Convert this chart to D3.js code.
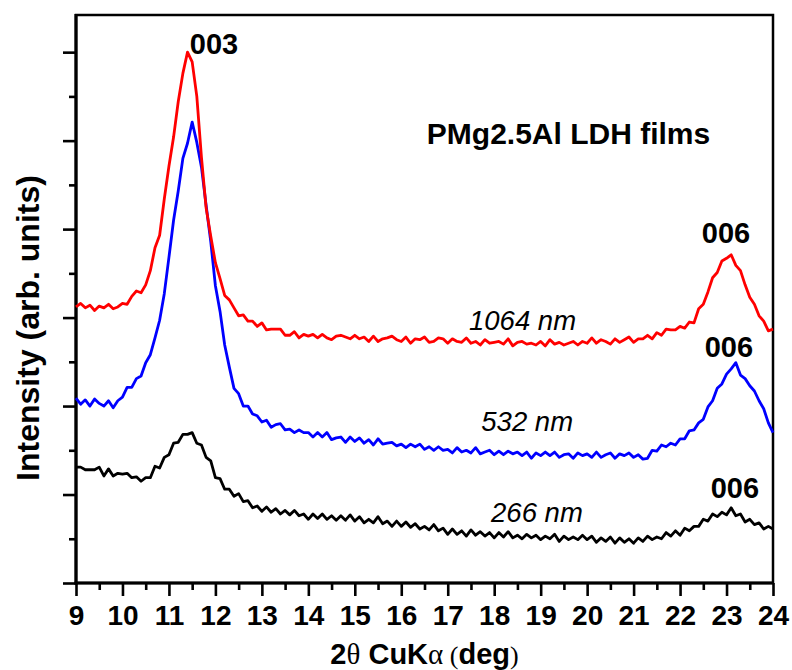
<!DOCTYPE html>
<html><head><meta charset="utf-8">
<script src="https://cdnjs.cloudflare.com/ajax/libs/d3/7.8.5/d3.min.js"></script>
<style>body{margin:0;background:#fff}svg{display:block}</style>
</head><body><svg id="c" width="792" height="670"></svg>
<script>
// ---- data (2theta from 9.0 to 24.0 deg, step 0.1; intensity in arb. units) ----
const thetaStart = 9.0, thetaStep = 0.1;
const red1064 = [
312,316,311,314,308,313,311,315,310,312,
316,315,324,330,328,337,353,379,393,434,
471,504,544,576,600,589,550,481,424,392,
362,344,325,320,311,302,303,296,296,290,
294,286,287,287,287,280,280,284,277,281,
279,281,277,281,277,275,279,280,278,276,
280,276,278,273,279,273,276,277,279,275,
273,278,271,276,275,278,272,273,277,276,
271,276,273,272,277,271,273,269,275,271,
272,273,270,276,268,272,273,270,271,269,
273,268,275,270,272,269,271,273,269,273,
271,277,271,275,273,270,276,272,275,278,
272,276,276,280,276,283,280,287,286,286,
290,288,295,294,310,315,329,345,351,364,
367,371,359,353,337,323,315,302,296,285,287];
const blue532 = [
209,202,207,200,208,203,200,206,198,206,
210,221,221,231,234,249,258,277,297,327,
368,410,443,480,497,521,498,470,427,386,
336,307,269,244,220,214,200,200,191,189,
182,184,176,179,180,173,174,170,173,170,
170,165,170,165,170,162,164,165,159,165,
160,164,158,162,156,163,157,158,159,155,
157,153,157,154,157,151,154,150,154,150,
151,147,153,148,150,147,153,146,148,150,
145,149,145,149,146,148,144,148,141,147,
144,148,144,148,142,145,146,141,147,144,
146,142,148,142,145,147,141,146,144,147,
142,145,140,141,150,149,156,154,158,156,
163,163,172,173,181,185,199,206,220,225,
236,242,249,235,231,223,217,206,197,181,170];
const black266 = [
131,131,128,128,128,131,121,129,121,124,
123,124,119,120,115,119,119,132,130,142,
145,158,159,168,168,170,158,156,142,138,
119,118,106,106,98,101,92,93,85,87,
81,86,80,84,78,82,77,82,76,78,
72,78,73,78,72,76,71,76,71,77,
70,75,68,72,68,75,67,70,64,70,
64,69,63,67,61,64,60,66,59,62,
55,61,55,59,53,60,54,58,53,57,
51,57,52,58,51,54,50,55,51,54,
49,53,50,55,47,53,49,52,49,54,
49,53,46,51,47,52,45,51,46,50,
45,51,47,53,49,52,50,57,53,59,
54,62,59,64,64,72,70,78,75,80,
77,85,76,78,69,72,66,68,61,64,61];

const xTickLabels = [9,10,11,12,13,14,15,16,17,18,19,20,21,22,23,24];
const yMajorTicks = [0,100,200,300,400,500,600];
const seriesNames = ["266 nm","532 nm","1064 nm"];
const seriesColors = ["#000000","#0000ff","#ff0000"];
// annotation positions in data units (deg, intensity)
const peakLabels = [
  {text:"003", x:11.97, y:598},
  {text:"006", x:22.99, y:384},
  {text:"006", x:23.05, y:255},
  {text:"006", x:23.18, y:96}
];
const seriesLabelPos = [
  {x:18.92, y:69}, {x:18.71, y:172}, {x:18.61, y:286}
];
const titleText = "PMg2.5Al LDH films";
const titlePos = {x:19.6, y:496};

// ---- layout ----
const m = {left:76, right:773, top:15, bottom:583};
const FONT = "'Liberation Sans', Arial, Helvetica, sans-serif";
const SERIF = "'Liberation Serif', 'Times New Roman', serif";
const svg = d3.select("#c");

const x = d3.scaleLinear().domain([9,24]).range([m.left, m.right]);
const y = d3.scaleLinear().domain([0,642]).range([m.bottom, m.top]);

const xMinor = xTickLabels.slice(0,-1).map(v => v + 0.5);
const yMinor = yMajorTicks.slice(0,-1).map(v => v + 50);

function styleAxis(g){
  g.select(".domain").remove();
  g.selectAll(".tick line").attr("stroke","#000").attr("stroke-width",2.6);
}
// x axis ticks
svg.append("g").attr("transform",`translate(0,${m.bottom})`)
  .call(d3.axisBottom(x).tickValues(xMinor).tickSize(7).tickFormat(""))
  .call(styleAxis);
const gx = svg.append("g").attr("transform",`translate(0,${m.bottom})`)
  .call(d3.axisBottom(x).tickValues(xTickLabels).tickSize(13).tickFormat(d3.format("d")))
  .call(styleAxis);
gx.selectAll(".tick text").attr("y",42).attr("dy",0)
  .style("font",`bold 28px ${FONT}`).attr("fill","#000");

// y axis ticks (no labels)
svg.append("g").attr("transform",`translate(${m.left},0)`)
  .call(d3.axisLeft(y).tickValues(yMinor).tickSize(7).tickFormat(""))
  .call(styleAxis);
svg.append("g").attr("transform",`translate(${m.left},0)`)
  .call(d3.axisLeft(y).tickValues(yMajorTicks).tickSize(13).tickFormat(""))
  .call(styleAxis);

// frame
svg.append("rect").attr("x",m.left).attr("y",m.top)
  .attr("width",m.right-m.left).attr("height",m.bottom-m.top)
  .attr("fill","none").attr("stroke","#000").attr("stroke-width",2.5);
svg.append("line").attr("x1",m.left).attr("x2",m.left).attr("y1",m.top-1).attr("y2",m.bottom+1.5)
  .attr("stroke","#000").attr("stroke-width",3.2);
svg.append("line").attr("x1",m.left-1.5).attr("x2",m.right+1).attr("y1",m.bottom).attr("y2",m.bottom)
  .attr("stroke","#000").attr("stroke-width",3.2);

// curves
const series = [black266, blue532, red1064];
const line = d3.line()
  .x((d,i) => x(thetaStart + i*thetaStep))
  .y(d => y(d));
series.forEach((s,k) => {
  svg.append("path").datum(s).attr("d",line)
    .attr("fill","none").attr("stroke",seriesColors[k])
    .attr("stroke-width",2.8).attr("stroke-linejoin","round");
});

// annotations
peakLabels.forEach(p => {
  svg.append("text").attr("x",x(p.x)).attr("y",y(p.y)).attr("text-anchor","middle")
    .style("font",`bold 29px ${FONT}`).attr("fill","#000").text(p.text);
});
seriesLabelPos.forEach((p,k) => {
  svg.append("text").attr("x",x(p.x)).attr("y",y(p.y)).attr("text-anchor","middle")
    .style("font",`italic 27.5px ${FONT}`).attr("fill","#000").text(seriesNames[k]);
});
svg.append("text").attr("x",x(titlePos.x)).attr("y",y(titlePos.y)).attr("text-anchor","middle")
  .style("font",`bold 30px ${FONT}`).attr("fill","#000").text(titleText);

// axis titles
svg.append("text").attr("transform","translate(39,328) rotate(-90)").attr("text-anchor","middle")
  .style("font",`bold 32px ${FONT}`).attr("fill","#000").text("Intensity (arb. units)");
const xt = svg.append("text").attr("x",(m.left+m.right)/2).attr("y",664).attr("text-anchor","middle")
  .attr("fill","#000").style("font",`bold 29px ${FONT}`);
xt.append("tspan").text("2");
xt.append("tspan").style("font",`29px ${SERIF}`).text("θ");
xt.append("tspan").text(" CuK");
xt.append("tspan").style("font",`29px ${SERIF}`).text("α");
xt.append("tspan").style("font",`26px ${SERIF}`).text(" (");
xt.append("tspan").text("deg");
xt.append("tspan").style("font",`26px ${SERIF}`).text(")");
</script>
</body></html>
